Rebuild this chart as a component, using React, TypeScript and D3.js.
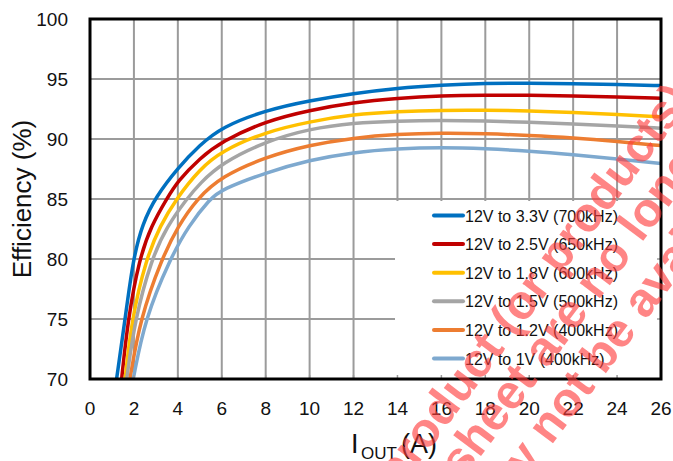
import React from 'react';
import * as d3 from 'd3';

// efficiency curves, [I_OUT (A), efficiency (%)]
const eff33: [number, number][] = [[1.21, 70], [1.6, 75], [1.96, 80], [2.4, 83], [3.0, 85.2], [4, 87.6], [5, 89.5], [6, 91.0], [8, 92.4], [10, 93.2], [12, 93.8], [14, 94.25], [16, 94.5], [18, 94.65], [20, 94.65], [22, 94.6], [24, 94.55], [26, 94.45]];
const eff25: [number, number][] = [[1.44, 70], [1.73, 75], [2.24, 80], [2.8, 82.8], [3.49, 85], [4, 86.5], [5, 88.4], [6, 89.8], [8, 91.5], [10, 92.4], [12, 93.05], [14, 93.4], [16, 93.6], [18, 93.65], [20, 93.65], [22, 93.6], [24, 93.5], [26, 93.4]];
const eff18: [number, number][] = [[1.6, 70], [1.9, 75], [2.55, 80], [3.2, 82.8], [3.92, 85], [5, 87.5], [6, 89.0], [8, 90.6], [10, 91.45], [12, 92.05], [14, 92.3], [16, 92.4], [18, 92.4], [20, 92.35], [22, 92.2], [24, 92.05], [26, 91.85]];
const eff15: [number, number][] = [[1.67, 70], [2.05, 75], [2.8, 80], [3.5, 82.7], [4.4, 85], [5, 86.3], [6, 88.0], [8, 89.8], [10, 90.85], [12, 91.35], [14, 91.5], [16, 91.55], [18, 91.5], [20, 91.4], [22, 91.25], [24, 91.1], [26, 90.9]];
const eff12: [number, number][] = [[1.82, 70], [2.28, 75], [3.26, 80], [4, 82.7], [4.86, 85], [6, 86.9], [8, 88.5], [10, 89.5], [12, 90.1], [14, 90.4], [16, 90.5], [18, 90.45], [20, 90.3], [22, 90.1], [24, 89.8], [26, 89.45]];
const eff10: [number, number][] = [[1.97, 70], [2.5, 75], [3.64, 80], [4.5, 82.8], [5.46, 85], [6, 85.8], [8, 87.2], [10, 88.25], [12, 88.9], [14, 89.2], [16, 89.3], [18, 89.2], [20, 89.0], [22, 88.7], [24, 88.35], [26, 87.95]];

const seriesNames = ['12V to 3.3V (700kHz)', '12V to 2.5V (650kHz)', '12V to 1.8V (600kHz)', '12V to 1.5V (500kHz)', '12V to 1.2V (400kHz)', '12V to 1V (400kHz)'];
const seriesData = [eff33, eff25, eff18, eff15, eff12, eff10];
const seriesColors = ['#0070c0', '#c00000', '#ffc000', '#a5a5a5', '#ed7d31', '#7ea9cf'];

const xTicks = [0, 2, 4, 6, 8, 10, 12, 14, 16, 18, 20, 22, 24, 26];
const yTicks = [70, 75, 80, 85, 90, 95, 100];

const watermark = ['product (or products)', 'sheet are no longer', 'y not be available'];

const W = 673, H = 461;
const m = { left: 90, right: 661, top: 19, bottom: 379 };
const FONT = '"Liberation Sans", Arial, sans-serif';

export default function App() {
  const x = d3.scaleLinear().domain([0, 26]).range([m.left, m.right]);
  const y = d3.scaleLinear().domain([70, 100]).range([m.bottom, m.top]);
  const line = d3.line<[number, number]>().x(d => x(d[0])).y(d => y(d[1])).curve(d3.curveBasis);

  const lg = { x0: 395, y0: 201, x1: m.right, y1: m.bottom, row0: 215.5, step: 28.6 };

  return (
    <svg width={W} height={H} style={{ position: 'absolute', left: 0, top: 0, background: '#fff' }}>
      <defs>
        <clipPath id="plot"><rect x={m.left} y={m.top} width={m.right - m.left} height={m.bottom - m.top} /></clipPath>
      </defs>
      <rect width={W} height={H} fill="#fff" />

      {/* grid */}
      {xTicks.slice(1, -1).map(t => (
        <line key={'gx' + t} x1={x(t)} x2={x(t)} y1={m.top} y2={m.bottom} stroke="#9b9b9b" strokeWidth={2} />
      ))}
      {yTicks.slice(1, -1).map(t => (
        <line key={'gy' + t} x1={m.left} x2={m.right} y1={y(t)} y2={y(t)} stroke="#9b9b9b" strokeWidth={2} />
      ))}

      {/* curves */}
      <g clipPath="url(#plot)">
        {seriesData.map((s, i) => (
          <path key={i} d={line(s) || ''} fill="none" stroke={seriesColors[i]} strokeWidth={3.5} />
        ))}
      </g>

      {/* legend */}
      <rect x={lg.x0} y={lg.y0} width={lg.x1 - lg.x0} height={lg.y1 - lg.y0} fill="#fff" />
      {xTicks.slice(1, -1).map(t => (
        <line key={'tk' + t} x1={x(t)} x2={x(t)} y1={m.bottom} y2={m.bottom - 4} stroke="#9b9b9b" strokeWidth={1.5} />
      ))}
      {yTicks.slice(1, -1).map(t => (
        <line key={'tr' + t} x1={m.right} x2={m.right - 4} y1={y(t)} y2={y(t)} stroke="#9b9b9b" strokeWidth={1.5} />
      ))}
      {seriesNames.map((n, i) => {
        const cy = lg.row0 + i * lg.step;
        return (
          <g key={n}>
            <line x1={434} x2={463} y1={cy} y2={cy} stroke={seriesColors[i]} strokeWidth={4} strokeLinecap="round" />
            <text x={465} y={cy + 6} fontFamily={FONT} fontSize={16} fill="#111">{n}</text>
          </g>
        );
      })}

      {/* frame */}
      <rect x={m.left} y={m.top} width={m.right - m.left} height={m.bottom - m.top} fill="none" stroke="#000" strokeWidth={3} />

      {/* tick labels */}
      {yTicks.map(t => (
        <text key={'yl' + t} x={68} y={y(t) + 7} textAnchor="end" fontFamily={FONT} fontSize={19} fill="#111">{t}</text>
      ))}
      {xTicks.map(t => (
        <text key={'xl' + t} x={x(t)} y={415} textAnchor="middle" fontFamily={FONT} fontSize={19} fill="#111">{t}</text>
      ))}

      {/* axis titles */}
      <text transform="translate(31,199) rotate(-90)" textAnchor="middle" fontFamily={FONT} fontSize={26} fill="#111">Efficiency (%)</text>
      <text x={351} y={453} fontFamily={FONT} fontSize={27} fill="#111">I</text>
      <text x={361} y={459} fontFamily={FONT} fontSize={17} fill="#111">OUT</text>
      <text x={401} y={453} fontFamily={FONT} fontSize={27} fill="#111">(A)</text>

      {/* watermark */}
      <g fill="#ff3b3b" opacity={0.62} fontFamily={FONT} fontWeight="bold" fontSize={48}>
        <text transform="translate(398,491) rotate(-53)">{watermark[0]}</text>
        <text transform="translate(463,480) rotate(-53)">{watermark[1]}</text>
        <text transform="translate(527,478) rotate(-53)">{watermark[2]}</text>
      </g>
    </svg>
  );
}
